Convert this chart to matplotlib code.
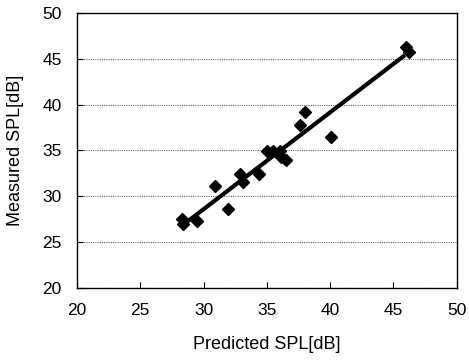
import numpy as np
import matplotlib
matplotlib.use('Agg')
import matplotlib.pyplot as plt

# Predicted vs measured SPL
predicted = [28.3, 28.4, 29.5, 30.9, 31.9, 32.9, 33.1, 34.4, 35.0, 35.5, 36.0, 36.1, 36.5, 37.6, 38.0, 40.1, 46.0, 46.2]
measured = [27.5, 27.0, 27.3, 31.1, 28.6, 32.4, 31.6, 32.4, 34.9, 34.9, 34.9, 34.3, 34.0, 37.8, 39.2, 36.5, 46.3, 45.8]
fit_x = [28.4, 45.9]

plt.rcParams['font.family'] = ['Liberation Sans', 'DejaVu Sans']

fig = plt.figure(figsize=(4.69, 3.63), dpi=100)
ax = fig.add_axes([0.164, 0.207, 0.81, 0.757])

coef = np.polyfit(predicted, measured, 1)
ax.plot(fit_x, np.polyval(coef, fit_x), color='black', lw=3, solid_capstyle='butt', zorder=2)
ax.plot(predicted, measured, 'D', color='black', ms=6.5, zorder=3)

ax.set_xlim(20, 50)
ax.set_ylim(20, 50)
ax.set_xticks(range(20, 51, 5))
ax.set_yticks(range(20, 51, 5))
ax.yaxis.grid(True, linestyle=(0, (1, 1)), color='#666666', lw=0.8)
ax.set_axisbelow(True)
ax.tick_params(direction='in', length=4, labelsize=12.5, width=0.8)
ax.tick_params(axis='x', pad=11)
ax.tick_params(axis='y', pad=11)
for s in ax.spines.values():
    s.set_linewidth(1.0)

ax.set_xlabel('Predicted SPL[dB]', fontsize=13, labelpad=13)
ax.set_ylabel('Measured SPL[dB]', fontsize=13, labelpad=13)

plt.savefig('out.png', dpi=100)
plt.close()
